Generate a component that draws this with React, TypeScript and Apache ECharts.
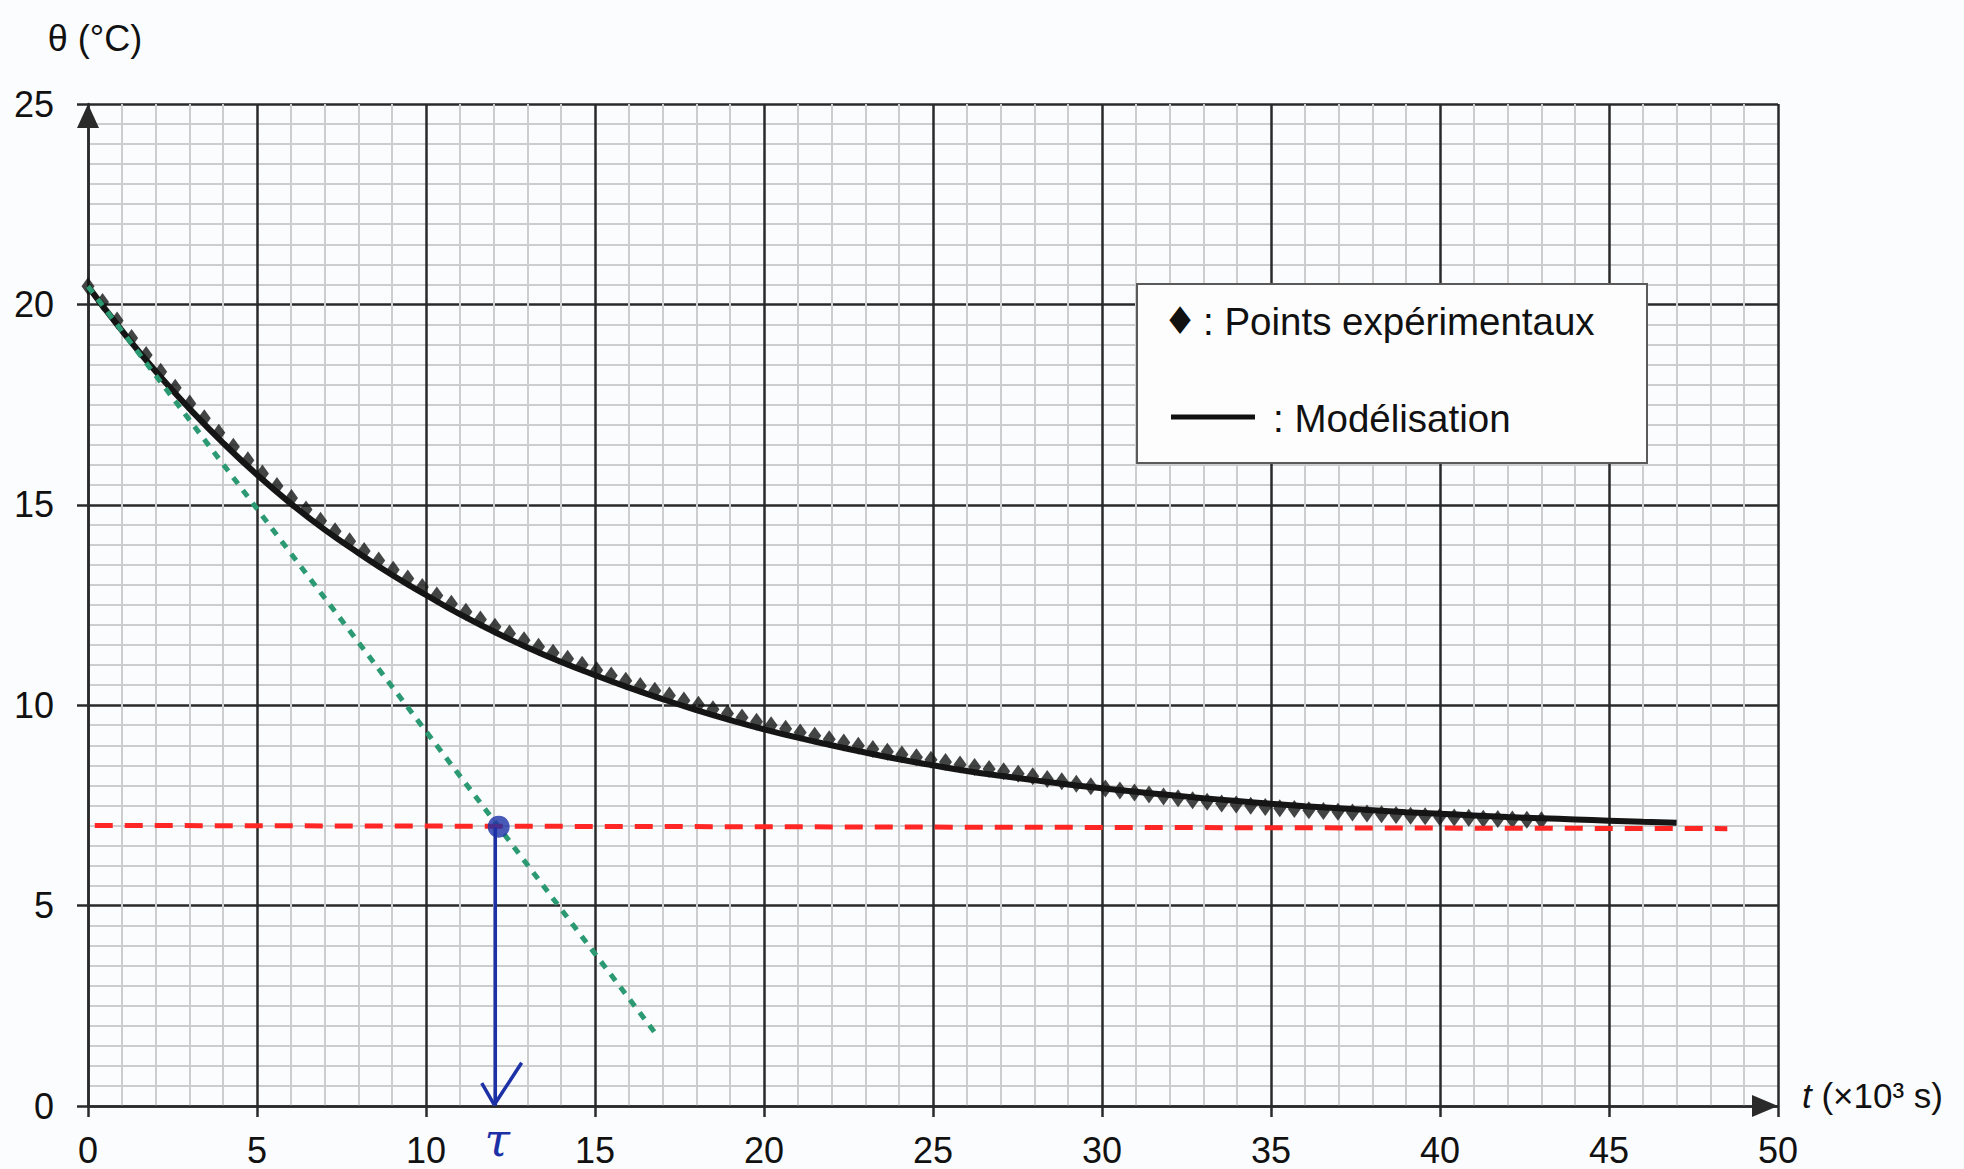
import React, { useEffect, useRef } from "react";
import * as echarts from "echarts";

// Experimental points (t in 10^3 s, θ in °C)
const expTimes = [
  0, 0.43, 0.86, 1.29, 1.72, 2.15, 2.58, 3.01, 3.44, 3.87,
  4.3, 4.73, 5.16, 5.59, 6.02, 6.45, 6.88, 7.31, 7.74, 8.17,
  8.6, 9.03, 9.46, 9.89, 10.32, 10.75, 11.18, 11.61, 12.04, 12.47,
  12.9, 13.33, 13.76, 14.19, 14.62, 15.05, 15.48, 15.91, 16.34, 16.77,
  17.2, 17.63, 18.06, 18.49, 18.92, 19.35, 19.78, 20.21, 20.64, 21.07,
  21.5, 21.93, 22.36, 22.79, 23.22, 23.65, 24.08, 24.51, 24.94, 25.37,
  25.8, 26.23, 26.66, 27.09, 27.52, 27.95, 28.38, 28.81, 29.24, 29.67,
  30.1, 30.53, 30.96, 31.39, 31.82, 32.25, 32.68, 33.11, 33.54, 33.97,
  34.4, 34.83, 35.26, 35.69, 36.12, 36.55, 36.98, 37.41, 37.84, 38.27,
  38.7, 39.13, 39.56, 39.99, 40.42, 40.85, 41.28, 41.71, 42.14, 42.57,
  43.0,
];
const expTemps = [
  20.45, 20.06, 19.6, 19.16, 18.74, 18.32, 17.92, 17.53, 17.16, 16.8,
  16.45, 16.11, 15.78, 15.47, 15.17, 14.88, 14.6, 14.34, 14.09, 13.85,
  13.61, 13.38, 13.16, 12.95, 12.74, 12.53, 12.33, 12.14, 11.96, 11.79,
  11.62, 11.46, 11.31, 11.16, 11.01, 10.87, 10.74, 10.61, 10.48, 10.36,
  10.24, 10.12, 10.01, 9.9, 9.79, 9.69, 9.59, 9.5, 9.41, 9.32,
  9.24, 9.15, 9.07, 8.99, 8.91, 8.84, 8.77, 8.7, 8.64, 8.58,
  8.52, 8.46, 8.41, 8.35, 8.29, 8.23, 8.16, 8.1, 8.04, 7.98,
  7.92, 7.87, 7.82, 7.77, 7.72, 7.68, 7.63, 7.59, 7.55, 7.52,
  7.49, 7.46, 7.43, 7.41, 7.38, 7.36, 7.34, 7.32, 7.3, 7.28,
  7.26, 7.24, 7.23, 7.21, 7.2, 7.19, 7.17, 7.16, 7.15, 7.14,
  7.13,
];

// Model curve
const modelTimes = [
  0, 1, 2, 3, 4, 5, 6, 7, 8, 9,
  10, 11, 12, 13, 14, 15, 16, 17, 18, 19,
  20, 21, 22, 23, 24, 25, 26, 27, 28, 29,
  30, 31, 32, 33, 34, 35, 36, 37, 38, 39,
  40, 41, 42, 43, 44, 45, 46, 47,
];
const modelTemps = [
  20.45, 19.35, 18.33, 17.4, 16.54, 15.75, 15.03, 14.38, 13.8, 13.25,
  12.75, 12.27, 11.84, 11.44, 11.08, 10.75, 10.44, 10.15, 9.88, 9.63,
  9.4, 9.19, 9.0, 8.82, 8.65, 8.5, 8.36, 8.24, 8.13, 8.02,
  7.93, 7.84, 7.76, 7.68, 7.61, 7.54, 7.48, 7.43, 7.38, 7.33,
  7.29, 7.25, 7.21, 7.18, 7.15, 7.12, 7.09, 7.07,
];

// Hand-drawn construction lines
const tangentTimes = [0, 16.8];
const tangentTemps = [20.45, 1.8];
const asymptoteTimes = [0.2, 48.5];
const asymptoteTemps = [7.0, 6.92];
const tauDotTime = 12.15;
const tauDotTemp = 6.97;
const tauStemTimes = [12.05, 12.05];
const tauStemTemps = [6.95, 0.02];
const tauHeadTimes = [11.65, 12.02, 12.83];
const tauHeadTemps = [0.57, 0.03, 1.08];

const zip = (a: number[], b: number[]) => a.map((v, i) => [v, b[i]]);

const FONT = "Liberation Sans";
const DARK = "#2a2a2a";
const MINOR = "#cdcdcd";
const BLUE = "#1c31a6";

export default function App() {
  const ref = useRef<HTMLDivElement>(null);
  useEffect(() => {
    if (!ref.current) return;
    const chart = echarts.init(ref.current, undefined, { renderer: "svg" });
    const option: any = {
      animation: false,
      backgroundColor: "#fbfcfd",
      grid: { left: 88, right: 186, top: 104, bottom: 63, containLabel: false },
      xAxis: {
        type: "value",
        min: 0,
        max: 50,
        interval: 5,
        name: "{it|t} (×10³ s)",
        nameLocation: "end",
        nameGap: 24,
        nameTextStyle: {
          fontFamily: FONT,
          fontSize: 35,
          color: "#111",
          padding: [0, 0, 22, 0],
          rich: {
            it: { fontStyle: "italic", fontFamily: FONT, fontSize: 35, color: "#111" },
          },
        },
        axisLine: {
          show: true,
          onZero: false,
          symbol: ["none", "triangle"],
          symbolSize: [22, 26],
          symbolOffset: [0, -13],
          lineStyle: { color: DARK, width: 2.5 },
        },
        axisTick: { show: true, length: 11, inside: false, lineStyle: { color: DARK, width: 2.5 } },
        axisLabel: { fontFamily: FONT, fontSize: 36, color: "#111", margin: 26 },
        splitLine: { show: true, lineStyle: { color: DARK, width: 2.5 } },
        minorTick: { show: false, splitNumber: 5 },
        minorSplitLine: { show: true, lineStyle: { color: MINOR, width: 2 } },
      },
      yAxis: {
        type: "value",
        min: 0,
        max: 25,
        interval: 5,
        name: "θ (°C)",
        nameLocation: "end",
        nameGap: 48,
        nameTextStyle: { fontFamily: FONT, fontSize: 36, color: "#111", padding: [0, 0, 0, 14] },
        axisLine: {
          show: true,
          onZero: false,
          symbol: ["none", "triangle"],
          symbolSize: [22, 24],
          symbolOffset: [0, -12],
          lineStyle: { color: DARK, width: 2.5 },
        },
        axisTick: { show: true, length: 11, inside: false, lineStyle: { color: DARK, width: 2.5 } },
        axisLabel: { fontFamily: FONT, fontSize: 36, color: "#111", margin: 34 },
        splitLine: { show: true, lineStyle: { color: DARK, width: 2.5 } },
        minorTick: { show: false, splitNumber: 10 },
        minorSplitLine: { show: true, lineStyle: { color: MINOR, width: 2 } },
      },
      series: [
        {
          name: "Points expérimentaux",
          type: "scatter",
          data: zip(expTimes, expTemps),
          symbol: "diamond",
          symbolSize: [13, 18],
          itemStyle: { color: "#151515" },
          z: 3,
        },
        {
          name: "Modélisation",
          type: "line",
          data: zip(modelTimes, modelTemps),
          smooth: true,
          showSymbol: false,
          lineStyle: { color: "#151515", width: 6 },
          z: 4,
        },
        {
          name: "Tangente",
          type: "line",
          data: zip(tangentTimes, tangentTemps),
          showSymbol: false,
          lineStyle: { color: "#2b9a72", width: 5, type: [8, 8] },
          z: 5,
        },
        {
          name: "Asymptote",
          type: "line",
          data: zip(asymptoteTimes, asymptoteTemps),
          showSymbol: false,
          lineStyle: { color: "#ff2626", width: 5, type: [18, 12] },
          z: 5,
        },
        {
          name: "tau stem",
          type: "line",
          data: zip(tauStemTimes, tauStemTemps),
          showSymbol: false,
          lineStyle: { color: BLUE, width: 3.5 },
          z: 6,
        },
        {
          name: "tau head",
          type: "line",
          data: zip(tauHeadTimes, tauHeadTemps),
          showSymbol: false,
          lineStyle: { color: BLUE, width: 3.5 },
          z: 6,
        },
        {
          name: "tau point",
          type: "scatter",
          data: [[tauDotTime, tauDotTemp]],
          symbol: "circle",
          symbolSize: 22,
          itemStyle: { color: BLUE },
          z: 7,
        },
      ],
    };
    chart.setOption(option);
    const tauPx = chart.convertToPixel({ gridIndex: 0 }, [tauStemTimes[1], 0]) as number[];
    chart.setOption({
      graphic: [
        {
          type: "rect",
          shape: { x: 1137, y: 284, width: 510, height: 179 },
          style: { fill: "#fdfdfe", stroke: "#5a5a5a", lineWidth: 2 },
          z: 100,
        },
        {
          type: "text",
          x: 1163,
          y: 321,
          style: {
            text: "♦",
            fontFamily: "DejaVu Sans",
            fontSize: 38,
            fill: "#111",
            verticalAlign: "middle",
          },
          z: 101,
        },
        {
          type: "text",
          x: 1203,
          y: 321,
          style: {
            text: ": Points expérimentaux",
            fontFamily: FONT,
            fontSize: 38.5,
            fill: "#111",
            verticalAlign: "middle",
          },
          z: 101,
        },
        {
          type: "line",
          shape: { x1: 1171, y1: 417, x2: 1255, y2: 417 },
          style: { stroke: "#111", lineWidth: 5 },
          z: 101,
        },
        {
          type: "text",
          x: 1273,
          y: 418,
          style: {
            text: ": Modélisation",
            fontFamily: FONT,
            fontSize: 38.5,
            fill: "#111",
            verticalAlign: "middle",
          },
          z: 101,
        },
        {
          type: "text",
          x: tauPx[0] + 2,
          y: tauPx[1] + 34,
          style: {
            text: "τ",
            fontFamily: "DejaVu Serif",
            fontStyle: "italic",
            fontSize: 46,
            fill: BLUE,
            align: "center",
            verticalAlign: "middle",
          },
          z: 101,
        },
      ],
    });
    return () => chart.dispose();
  }, []);
  return (
    <div
      ref={ref}
      style={{ position: "absolute", left: 0, top: 0, width: 1964, height: 1169 }}
    />
  );
}
